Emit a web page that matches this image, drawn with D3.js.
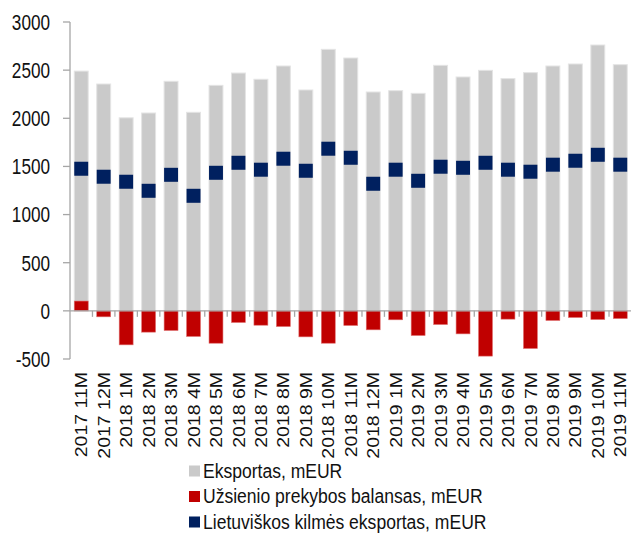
<!DOCTYPE html>
<html>
<head>
<meta charset="utf-8">
<script src="https://cdn.jsdelivr.net/npm/d3@7"></script>
<style>
  body { margin: 0; background: #fff; }
  text { font-family: "Liberation Sans", Arial, sans-serif; fill: #111; }
</style>
</head>
<body>
<div id="chart"></div>
<script>
// data
var months = ["2017 11M", "2017 12M", "2018 1M", "2018 2M", "2018 3M", "2018 4M", "2018 5M",
  "2018 6M", "2018 7M", "2018 8M", "2018 9M", "2018 10M", "2018 11M", "2018 12M",
  "2019 1M", "2019 2M", "2019 3M", "2019 4M", "2019 5M", "2019 6M", "2019 7M",
  "2019 8M", "2019 9M", "2019 10M", "2019 11M"];
var exportsTotal = [2490, 2356, 2005, 2055, 2384, 2062, 2342, 2470, 2405, 2543, 2294, 2716, 2626,
  2273, 2287, 2259, 2550, 2429, 2498, 2412, 2474, 2543, 2564, 2761, 2557];
var tradeBalance = [102, -62, -353, -221, -204, -266, -336, -121, -149, -163, -270, -336, -152,
  -197, -93, -256, -142, -239, -470, -86, -391, -100, -69, -90, -80];
var ltOriginExports = [1476, 1393, 1341, 1247, 1413, 1195, 1434, 1538, 1466, 1580, 1455, 1684, 1590,
  1320, 1466, 1351, 1497, 1486, 1538, 1466, 1445, 1518, 1559, 1621, 1518];
var yTicks = [-500, 0, 500, 1000, 1500, 2000, 2500, 3000];
var legendItems = [
  { label: "Eksportas, mEUR", color: "#cacaca" },
  { label: "Užsienio prekybos balansas, mEUR", color: "#c00000" },
  { label: "Lietuviškos kilmės eksportas, mEUR", color: "#00205f" }
];

var width = 631, height = 534;
var svg = d3.select("#chart").append("svg").attr("width", width).attr("height", height);

var x = d3.scaleBand().domain(months).range([70, 631.5]).paddingInner(0.38).paddingOuter(0.19);
var y = d3.scaleLinear().domain([-500, 3000]).range([359, 22]);
var axisColor = "#a6a6a6";

// grey export bars
svg.append("g").selectAll("rect")
  .data(exportsTotal)
  .enter().append("rect")
  .attr("x", function (d, i) { return x(months[i]); })
  .attr("width", x.bandwidth())
  .attr("y", function (d) { return y(d); })
  .attr("height", function (d) { return y(0) - y(d); })
  .attr("fill", "#cacaca")
  .attr("stroke", "#e4e4e4")
  .attr("stroke-width", 1);

// red balance bars
svg.append("g").selectAll("rect")
  .data(tradeBalance)
  .enter().append("rect")
  .attr("x", function (d, i) { return x(months[i]); })
  .attr("width", x.bandwidth())
  .attr("y", function (d) { return y(Math.max(0, d)); })
  .attr("height", function (d) { return Math.abs(y(d) - y(0)); })
  .attr("fill", "#c00000")
  .attr("stroke", "#e07070")
  .attr("stroke-width", 0.6);

// y axis
var yAxis = svg.append("g");
yAxis.append("line")
  .attr("x1", 70).attr("x2", 70).attr("y1", y(3000)).attr("y2", y(-500))
  .attr("stroke", axisColor).attr("stroke-width", 1.3);
yAxis.selectAll(".tick").data(yTicks).enter().append("line")
  .attr("x1", 63).attr("x2", 70)
  .attr("y1", function (d) { return y(d); }).attr("y2", function (d) { return y(d); })
  .attr("stroke", axisColor).attr("stroke-width", 1.3);
yAxis.selectAll("text").data(yTicks).enter().append("text")
  .attr("transform", function (d) { return "translate(50," + y(d) + ") scale(0.78,1)"; })
  .attr("text-anchor", "end")
  .attr("dominant-baseline", "central")
  .style("font-size", "22px")
  .text(function (d) { return d; });

// zero line with category ticks
var xAxis = svg.append("g");
xAxis.append("line")
  .attr("x1", 70).attr("x2", 631).attr("y1", y(0)).attr("y2", y(0))
  .attr("stroke", axisColor).attr("stroke-width", 1.3);
var step = x.step();
xAxis.selectAll(".tick").data(months.slice(1)).enter().append("line")
  .attr("x1", function (d) { return x(d) - x.paddingInner() * step / 2; })
  .attr("x2", function (d) { return x(d) - x.paddingInner() * step / 2; })
  .attr("y1", y(0)).attr("y2", y(0) + 6)
  .attr("stroke", axisColor).attr("stroke-width", 1.3);

// navy markers
var mh = 14;
svg.append("g").selectAll("rect")
  .data(ltOriginExports)
  .enter().append("rect")
  .attr("x", function (d, i) { return x(months[i]); })
  .attr("width", x.bandwidth())
  .attr("y", function (d) { return y(d) - mh / 2; })
  .attr("height", mh)
  .attr("fill", "#00205f");

// category labels
svg.append("g").selectAll("text")
  .data(months)
  .enter().append("text")
  .attr("transform", function (d) {
    return "translate(" + (x(d) + x.bandwidth() / 2) + ",372) rotate(-90) scale(1,0.88)";
  })
  .attr("text-anchor", "end")
  .attr("dominant-baseline", "central")
  .style("font-size", "19.5px")
  .text(function (d) { return d; });

// legend (last row sits at the bottom edge, as in the original)
var legend = svg.append("g").selectAll("g")
  .data(legendItems)
  .enter().append("g")
  .attr("transform", function (d, i) { return "translate(189," + (471 + i * 25.5) + ")"; });
legend.append("rect")
  .attr("x", 0).attr("y", -5.5).attr("width", 11).attr("height", 11)
  .attr("fill", function (d) { return d.color; });
legend.append("text")
  .attr("transform", "translate(14,0) scale(0.877,1)")
  .attr("dominant-baseline", "central")
  .style("font-size", "20px")
  .text(function (d) { return d.label; });
</script>
</body>
</html>
